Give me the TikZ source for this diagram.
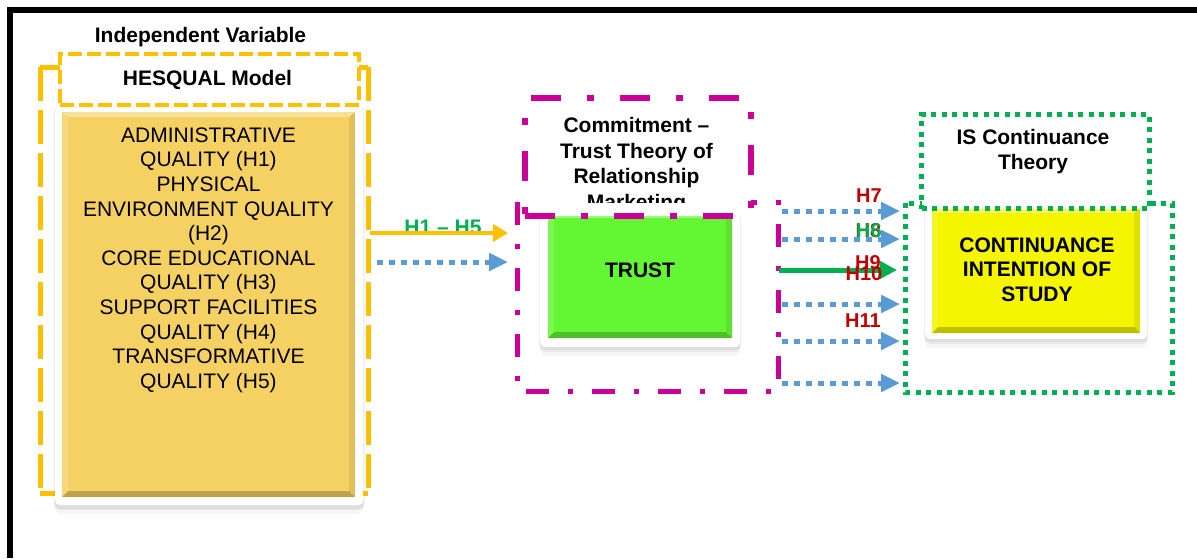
\documentclass[tikz,border=0pt]{standalone}
\usepackage{fontspec}
\setmainfont{Liberation Sans}
\usetikzlibrary{arrows.meta,shadows}

\definecolor{gold}{RGB}{255,192,0}
\definecolor{goldface}{RGB}{245,208,98}
\definecolor{mag}{RGB}{204,0,153}
\definecolor{grn}{RGB}{0,176,80}
\definecolor{blu}{RGB}{91,155,213}
\definecolor{trustface}{RGB}{99,246,51}
\definecolor{ciface}{RGB}{245,245,0}
\definecolor{hred}{RGB}{192,0,0}

% shaded bevel over a face: x1 y1 x2 y2 colour
\newcommand{\facebevel}[5]{%
  \fill[white,opacity=.35] (#1,#2) -- (#3,#2) -- (#3-6,#2+5) -- (#1+6,#2+5) -- cycle;
  \fill[black,opacity=.08] (#3,#2) -- (#3,#4) -- (#3-6,#4-6) -- (#3-6,#2+5) -- cycle;
  \fill[white,opacity=.15] (#1,#2) -- (#1,#4) -- (#1+6,#4-6) -- (#1+6,#2+5) -- cycle;
  \fill[#5!60!black,opacity=.55] (#1,#4) -- (#3,#4) -- (#3-6,#4-6) -- (#1+6,#4-6) -- cycle;
}

\begin{document}
\begin{tikzpicture}[x=1pt,y=-1pt,
  lbl/.style={font=\bfseries\fontsize{21}{24.6}\selectfont, align=center, inner sep=0pt},
  body/.style={font=\fontsize{21}{24.6}\selectfont, align=center, inner sep=0pt},
  hyp/.style={font=\bfseries\fontsize{20}{22}\selectfont, inner sep=0pt},
  cardframe/.style={fill=white, rounded corners=5pt, inner sep=0pt, anchor=north west,
    drop shadow={opacity=.12, shadow xshift=0pt, shadow yshift=-2pt, shadow scale=1.01},
    drop shadow={opacity=.10, shadow xshift=0pt, shadow yshift=-5pt},
    drop shadow={opacity=.07, shadow xshift=0pt, shadow yshift=-9pt}},
  cardface/.style={inner sep=0pt, anchor=north west},
  goldbox/.style={draw=gold, line width=5pt, line cap=butt, dash pattern=on 34pt off 9pt},
  goldtitle/.style={draw=gold, fill=white, line width=3.5pt, dash pattern=on 14pt off 5pt},
  magbox/.style={draw=mag, line width=5pt, dash pattern=on 23pt off 19pt on 5pt off 19pt},
  magtitle/.style={draw=mag, fill=white, line width=5.5pt, dash pattern=on 30pt off 26pt on 7pt off 26pt},
  grnbox/.style={draw=grn, line width=5pt, dash pattern=on 5pt off 5.5pt},
  grntitle/.style={grnbox, fill=white},
  bluearrow/.style={draw=blu, line width=5pt, dash pattern=on 5.5pt off 6.5pt,
    -{Triangle[length=19pt,width=17pt]}},
  goldarrow/.style={draw=gold, line width=4.5pt, -{Triangle[length=15pt,width=17pt]}},
  grnarrow/.style={draw=grn, line width=5pt, -{Triangle[length=17pt,width=17pt]}}
]
\useasboundingbox (0,0) rectangle (1197,558);

% page rule along the top and left
\draw[line width=6pt, miter limit=10] (10,558) -- (10,10) -- (1197,10);

% ---------- independent variable ----------
\node[lbl, anchor=north] (ivtitle) at (200.5,27) {Independent Variable};
\coordinate (ivtl) at (40,67);  \coordinate (ivtr) at (368,67);
\coordinate (ivbl) at (40,493); \coordinate (ivbr) at (368,493);
\draw[goldbox] (ivtl) -- (ivbl);
\draw[goldbox] (ivbl) -- (ivbr);
\draw[goldbox] (ivtr) -- (ivbr);
\draw[goldbox] (ivtl) -- (ivtr);
\node[goldtitle, anchor=north west, minimum width=299, minimum height=51, inner sep=0pt] (hesqual) at (58,52) {};
\node[lbl, anchor=north] (hesqualtext) at (207.5,70) {HESQUAL Model};

\node[cardframe, minimum width=308, minimum height=398] (ivframe) at (55,107) {};
\node[cardface, fill=goldface, minimum width=293, minimum height=385] (ivface) at (62,112) {};
\facebevel{62}{112}{355}{497}{goldface}
\node[body, anchor=north] (ivtext) at (208.5,127.5)
  {ADMINISTRATIVE\\QUALITY (H1)\\PHYSICAL\\ENVIRONMENT QUALITY\\(H2)\\CORE EDUCATIONAL\\QUALITY (H3)\\SUPPORT FACILITIES\\QUALITY (H4)\\TRANSFORMATIVE\\QUALITY (H5)};

% ---------- mediating variable ----------
\draw[magbox] (517,202) rectangle (778,391);
\node[cardframe, minimum width=200, minimum height=139] (trustframe) at (540,208) {};
\node[cardface, fill=trustface, minimum width=184, minimum height=125] (trustface) at (548,213) {};
\facebevel{548}{213}{732}{338}{trustface}
\node[lbl] (trust) at (640,270) {TRUST};

\node[magtitle, anchor=north west, minimum width=226, minimum height=118, inner sep=0pt] (cttitle) at (522,95) {};
\begin{scope}
  \clip (522,95) rectangle (748,202);
  \node[lbl, anchor=north, font=\bfseries\fontsize{21}{25.6}\selectfont] (cttext) at (636.5,117)
    {Commitment –\\Trust Theory of\\Relationship\\Marketing};
\end{scope}

% ---------- dependent variable ----------
\draw[grnbox] (905,203) rectangle (1172,392);
\node[cardframe, minimum width=222, minimum height=134] (ciframe) at (925,205) {};
\node[cardface, fill=ciface, minimum width=208, minimum height=125] (ciface) at (932,208) {};
\facebevel{932}{208}{1140}{333}{ciface}
\node[lbl, anchor=north, font=\bfseries\fontsize{21}{24.5}\selectfont] (citext) at (1037,237.5)
  {CONTINUANCE\\INTENTION OF\\STUDY};

\node[grntitle, anchor=north west, minimum width=228, minimum height=94, inner sep=0pt] (istitle) at (919,112) {};
\node[lbl, anchor=north, font=\bfseries\fontsize{21}{25}\selectfont] (istext) at (1033,129.5)
  {IS Continuance\\Theory};

% ---------- paths into the mediator ----------
\coordinate (g1s) at (370,233);  \coordinate (g1e) at (508,233);
\coordinate (b1s) at (377,262);  \coordinate (b1e) at (508,262);
\node[lbl, text=grn] (h15) at (443,227) {H1 – H5};
\draw[goldarrow] (g1s) -- (g1e);
\draw[bluearrow] (b1s) -- (b1e);

% ---------- paths into the outcome ----------
\coordinate (r1s) at (782,211); \coordinate (r1e) at (900,211);
\coordinate (r2s) at (782,239); \coordinate (r2e) at (900,239);
\coordinate (r3s) at (779,270); \coordinate (r3e) at (897,270);
\coordinate (r4s) at (782,304); \coordinate (r4e) at (900,304);
\coordinate (r5s) at (782,341); \coordinate (r5e) at (900,341);
\coordinate (r6s) at (782,383); \coordinate (r6e) at (900,383);

\draw[bluearrow] (r1s) -- (r1e);
\draw[bluearrow] (r2s) -- (r2e);
\draw[bluearrow] (r4s) -- (r4e);
\draw[bluearrow] (r5s) -- (r5e);
\draw[bluearrow] (r6s) -- (r6e);

\node[hyp, text=hred] (h7) at (869,196) {H7};
\node[hyp, text=hred] (h8) at (868.5,230.5) {H8};
\node[hyp, text=grn] (h6) at (869,231) {H6};
\draw[grnarrow] (r3s) -- (r3e);
\node[hyp, text=hred] (h9) at (868,263) {H9};
\node[hyp, text=hred] (h10) at (864,274) {H10};
\node[hyp, text=hred] (h11) at (863,321) {H11};
\end{tikzpicture}
\end{document}
